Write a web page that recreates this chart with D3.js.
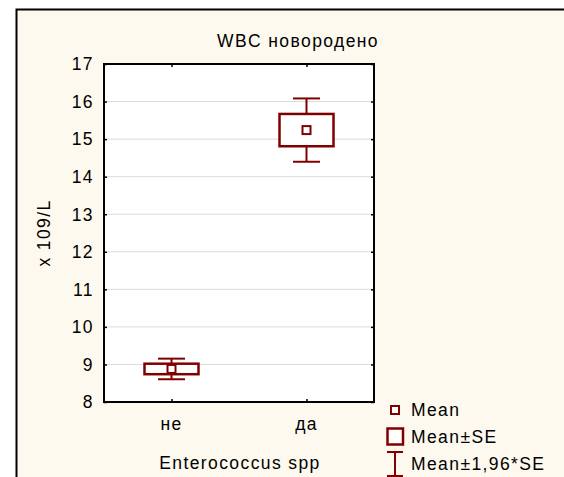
<!DOCTYPE html>
<html>
<head>
<meta charset="utf-8">
<script src="https://cdn.jsdelivr.net/npm/d3@7"></script>
<style>
  html, body { margin: 0; padding: 0; background: #ffffff; }
  svg { display: block; font-family: Arial, "Liberation Sans", sans-serif; }
  svg text { letter-spacing: 1.4px; }
</style>
</head>
<body>
<svg id="chart" width="564" height="477"></svg>
<script>
// Group labels, group means and standard errors
const categories = ["не", "да"];
const means = [8.88, 15.24];
const stdErrors = [0.14, 0.43];
const yTicks = [8, 9, 10, 11, 12, 13, 14, 15, 16, 17];
const legendLabels = ["Mean", "Mean±SE", "Mean±1,96*SE"];

const W = 564, H = 477;
const plot = { left: 104, top: 64, right: 374, bottom: 402 };
const red = "#800000";
const cream = "#fdf9ee";
const fs = 17.5;

const svg = d3.select("#chart");

// Page background and outer frame
svg.append("rect").attr("x", 0).attr("y", 0).attr("width", W).attr("height", H).attr("fill", "#ffffff");
svg.append("rect").attr("x", 16.5).attr("y", 9.5).attr("width", W + 10).attr("height", H + 10)
  .attr("fill", cream).attr("stroke", "#000").attr("stroke-width", 2);

const y = d3.scaleLinear().domain([8, 17]).range([plot.bottom, plot.top]);
const x = d3.scalePoint().domain(categories).range([plot.left, plot.right]).padding(0.5);

// Plot area
svg.append("rect").attr("x", plot.left).attr("y", plot.top)
  .attr("width", plot.right - plot.left).attr("height", plot.bottom - plot.top)
  .attr("fill", "#ffffff");

// Horizontal grid lines
svg.append("g").selectAll("line")
  .data(yTicks.filter(t => t > 8 && t < 17))
  .join("line")
  .attr("x1", plot.left).attr("x2", plot.right)
  .attr("y1", d => y(d)).attr("y2", d => y(d))
  .attr("stroke", "#dcdcdc").attr("stroke-width", 1);

// Left and right axes: short ticks pointing inward
const yAxisL = svg.append("g").attr("transform", `translate(${plot.left},0)`)
  .call(d3.axisRight(y).tickValues(yTicks).tickSize(3).tickFormat(""));
yAxisL.select(".domain").remove();
yAxisL.selectAll("line").attr("stroke", "#000").attr("stroke-width", 1.5);

const yAxisR = svg.append("g").attr("transform", `translate(${plot.right},0)`)
  .call(d3.axisLeft(y).tickValues(yTicks).tickSize(3).tickFormat(""));
yAxisR.select(".domain").remove();
yAxisR.selectAll("line").attr("stroke", "#000").attr("stroke-width", 1.5);

svg.append("g").selectAll("text")
  .data(yTicks)
  .join("text")
  .attr("x", plot.left - 10)
  .attr("y", d => y(d))
  .attr("dy", "0.36em")
  .attr("text-anchor", "end")
  .attr("font-size", fs)
  .attr("fill", "#000")
  .text(d => d);

// Category axis ticks, bottom and top, pointing inward
const xAxisB = svg.append("g").attr("transform", `translate(0,${plot.bottom})`)
  .call(d3.axisTop(x).tickSize(3).tickFormat(""));
xAxisB.select(".domain").remove();
xAxisB.selectAll("line").attr("stroke", "#000").attr("stroke-width", 1.5);

const xAxisT = svg.append("g").attr("transform", `translate(0,${plot.top})`)
  .call(d3.axisBottom(x).tickSize(3).tickFormat(""));
xAxisT.select(".domain").remove();
xAxisT.selectAll("line").attr("stroke", "#000").attr("stroke-width", 1.5);

svg.append("g").selectAll("text")
  .data(categories)
  .join("text")
  .attr("x", d => x(d))
  .attr("y", 430)
  .attr("text-anchor", "middle")
  .attr("font-size", fs)
  .attr("fill", "#000")
  .text(d => d);

// Plot frame
svg.append("rect").attr("x", plot.left).attr("y", plot.top)
  .attr("width", plot.right - plot.left).attr("height", plot.bottom - plot.top)
  .attr("fill", "none").attr("stroke", "#000").attr("stroke-width", 2);

// Box plots: box = mean ± SE, whiskers = mean ± 1.96*SE
const boxW = 54, capW = 27, markS = 8;
const groups = svg.append("g").selectAll("g")
  .data(categories.map((c, i) => ({ c, m: means[i], se: stdErrors[i] })))
  .join("g");

groups.append("line")
  .attr("x1", d => x(d.c)).attr("x2", d => x(d.c))
  .attr("y1", d => y(d.m + 1.96 * d.se)).attr("y2", d => y(d.m - 1.96 * d.se))
  .attr("stroke", red).attr("stroke-width", 2);
groups.append("line")
  .attr("x1", d => x(d.c) - capW / 2).attr("x2", d => x(d.c) + capW / 2)
  .attr("y1", d => y(d.m + 1.96 * d.se)).attr("y2", d => y(d.m + 1.96 * d.se))
  .attr("stroke", red).attr("stroke-width", 2);
groups.append("line")
  .attr("x1", d => x(d.c) - capW / 2).attr("x2", d => x(d.c) + capW / 2)
  .attr("y1", d => y(d.m - 1.96 * d.se)).attr("y2", d => y(d.m - 1.96 * d.se))
  .attr("stroke", red).attr("stroke-width", 2);
groups.append("rect")
  .attr("x", d => x(d.c) - boxW / 2)
  .attr("y", d => y(d.m + d.se))
  .attr("width", boxW)
  .attr("height", d => y(d.m - d.se) - y(d.m + d.se))
  .attr("fill", "#ffffff").attr("stroke", red).attr("stroke-width", 2.5);
groups.append("rect")
  .attr("x", d => x(d.c) - markS / 2)
  .attr("y", d => y(d.m) - markS / 2)
  .attr("width", markS).attr("height", markS)
  .attr("fill", "#ffffff").attr("stroke", red).attr("stroke-width", 2);

// Titles
svg.append("text").attr("x", 298).attr("y", 47).attr("text-anchor", "middle")
  .attr("font-size", fs).attr("fill", "#000").text("WBC новородено");
svg.append("text").attr("x", 240).attr("y", 469).attr("text-anchor", "middle")
  .attr("font-size", fs).attr("fill", "#000").text("Enterococcus spp");
svg.append("text")
  .attr("transform", `translate(50,${(plot.top + plot.bottom) / 2}) rotate(-90)`)
  .attr("text-anchor", "middle")
  .attr("font-size", fs).attr("fill", "#000").text("x 109/L");

// Legend
const leg = svg.append("g");
leg.append("rect").attr("x", 391).attr("y", 406).attr("width", 8).attr("height", 8)
  .attr("fill", "#ffffff").attr("stroke", red).attr("stroke-width", 2);
leg.append("rect").attr("x", 387.5).attr("y", 428.5).attr("width", 15.5).attr("height", 16)
  .attr("fill", "#ffffff").attr("stroke", red).attr("stroke-width", 2.5);
leg.append("line").attr("x1", 395).attr("x2", 395).attr("y1", 452).attr("y2", 476)
  .attr("stroke", red).attr("stroke-width", 2);
leg.append("line").attr("x1", 387).attr("x2", 403).attr("y1", 452).attr("y2", 452)
  .attr("stroke", red).attr("stroke-width", 2);
leg.append("line").attr("x1", 387).attr("x2", 403).attr("y1", 476).attr("y2", 476)
  .attr("stroke", red).attr("stroke-width", 2);
leg.selectAll("text")
  .data(legendLabels)
  .join("text")
  .attr("x", 411)
  .attr("y", (d, i) => [416, 443, 470][i])
  .attr("font-size", fs).attr("fill", "#000")
  .text(d => d);
</script>
</body>
</html>
